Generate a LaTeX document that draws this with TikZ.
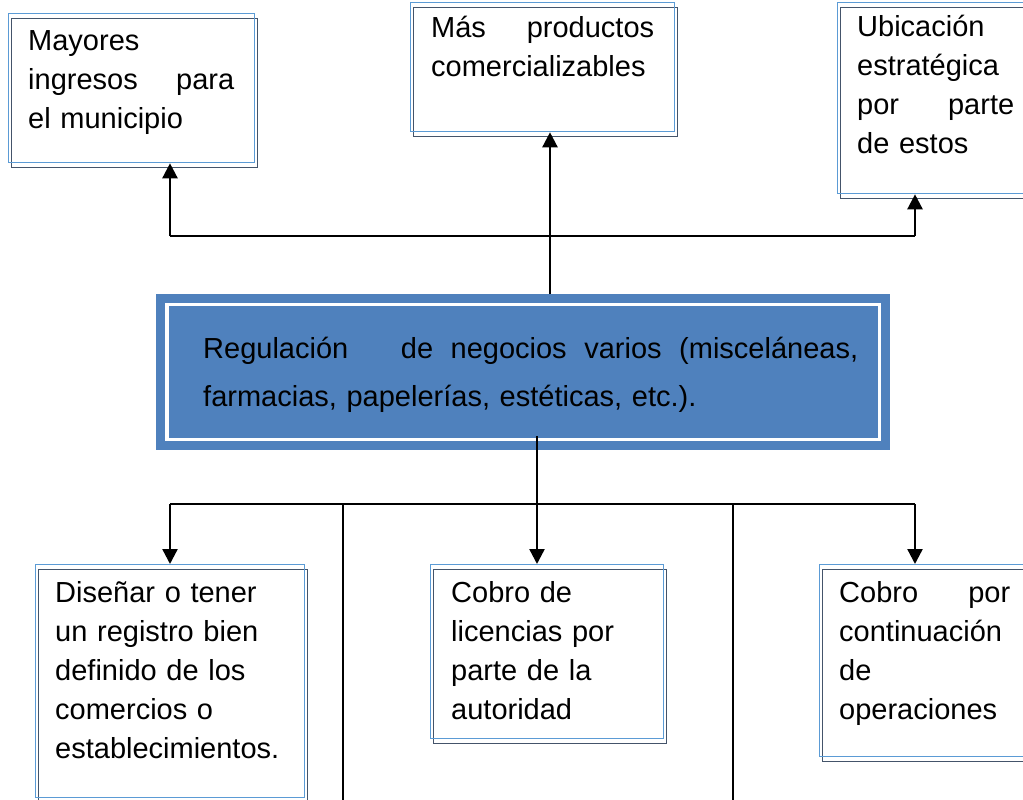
\documentclass[tikz,border=0pt]{standalone}
\usepackage{fontspec}
\setmainfont{Liberation Sans}
\usepackage{tikz}
\usetikzlibrary{arrows.meta, calc}

\definecolor{FrameBlue}{HTML}{5B9BD5}
\definecolor{FrameDark}{HTML}{44546A}
\definecolor{MainBlue}{HTML}{4F81BD}

\begin{document}
\begin{tikzpicture}[x=1pt, y=-1pt]

    % Page
    \useasboundingbox (0,0) rectangle (1023,800);
    \clip (0,0) rectangle (1023,800);
    \fill[white] (0,0) rectangle (1023,800);

    % Frames
    \tikzset{fB/.style={draw=FrameBlue, line width=1.3pt, inner sep=0pt, anchor=north west}}
    \tikzset{fD/.style={draw=FrameDark, line width=1.3pt, inner sep=0pt, anchor=north west}}
    \tikzset{regbox/.style={fill=MainBlue, inner sep=0pt, anchor=north west}}
    \tikzset{regline/.style={draw=white, line width=3.5pt, inner sep=0pt}}

    % Texts
    \tikzset{txt/.style={anchor=north west, inner sep=0pt, align=left, font=\fontsize{29}{39}\selectfont}}
    \tikzset{txtC/.style={txt, font=\fontsize{29}{48}\selectfont}}

    % Connectors
    \tikzset{conn/.style={draw=black, line width=2.4pt}}
    \tikzset{arr/.style={conn, -{Triangle[length=15pt, width=15pt]}}}

    % Top boxes
    \node (may2) [fD, minimum width=246pt, minimum height=149pt] at (11,18) {};
    \node (may) [fB, minimum width=246pt, minimum height=149pt] at (8,13) {};
    \node (mayT) [txt, text width=206pt] at (28,23.5)
        {\strut Mayores\\ ingresos\hfill para\\ el municipio};

    \node (mas2) [fD, minimum width=264pt, minimum height=129pt] at (413,7) {};
    \node (mas) [fB, minimum width=264pt, minimum height=129pt] at (410,2) {};
    \node (masT) [txt, text width=223pt] at (431,10)
        {\strut Más\hfill productos\\ comercializables};

    \node (ubi2) [fD, minimum width=200pt, minimum height=191pt] at (840,7) {};
    \node (ubi) [fB, minimum width=200pt, minimum height=191pt] at (837,2) {};
    \node (ubiT) [txt, text width=157pt] at (857,9.5)
        {\strut Ubicación\\ estratégica\\ por\hfill parte\\ de estos};

    % Central box
    \node (reg) [regbox, minimum width=734pt, minimum height=156pt] at (156,294) {};
    \node (regIn) [regline, minimum width=712.5pt, minimum height=135pt] at (reg.center) {};
    \node (regT) [txtC, text width=655pt] at (203,325)
        {\strut Regulación\hfill\hfill\hfill de\hfill negocios\hfill varios\hfill (misceláneas,\\ farmacias, papelerías, estéticas, etc.).};

    % Bottom boxes
    \node (dis2) [fD, minimum width=269pt, minimum height=240pt] at (38,569) {};
    \node (dis) [fB, minimum width=269pt, minimum height=233pt] at (35,564) {};
    \node (disT) [txt, text width=240pt] at (55,574.7)
        {\strut Diseñar o tener\\ un registro bien\\ definido de los\\ comercios o\\ establecimientos.};

    \node (cob2) [fD, minimum width=233pt, minimum height=174pt] at (433,569) {};
    \node (cob) [fB, minimum width=233pt, minimum height=174pt] at (430,564) {};
    \node (cobT) [txt, text width=200pt] at (451,574.7)
        {\strut Cobro de\\ licencias por\\ parte de la\\ autoridad};

    \node (con2) [fD, minimum width=220pt, minimum height=192pt] at (822,569) {};
    \node (con) [fB, minimum width=220pt, minimum height=192pt] at (819,564) {};
    \node (conT) [txt, text width=171pt] at (839,574.7)
        {\strut Cobro\hfill por\\ continuación\\ de\\ operaciones};

    % Junctions
    \coordinate (xUp) at (550,236);
    \coordinate (tL) at (170,236);
    \coordinate (tR) at (915,236);
    \coordinate (xDn) at (537,504);
    \coordinate (bL) at (170,504);
    \coordinate (bR) at (915,504);
    \coordinate (bA) at (343,504);
    \coordinate (bB) at (733,504);
    \coordinate (eA) at (343,800);
    \coordinate (eB) at (733,800);

    % Upper connectors
    \path[arr] (reg.north -| xUp) -- (mas.south -| xUp);
    \path[conn] (tL) -- (tR);
    \path[arr] (tL) -- (tL |- may.south);
    \path[arr] (tR) -- (tR |- ubi.south);

    % Lower connectors
    \path[arr] ([yshift=14pt]reg.south -| xDn) -- (cob.north -| xDn);
    \path[conn] (bL) -- (bR);
    \path[arr] (bL) -- (bL |- dis.north);
    \path[arr] (bR) -- (bR |- con.north);
    \path[conn] (bA) -- (eA);
    \path[conn] (bB) -- (eB);

\end{tikzpicture}
\end{document}
